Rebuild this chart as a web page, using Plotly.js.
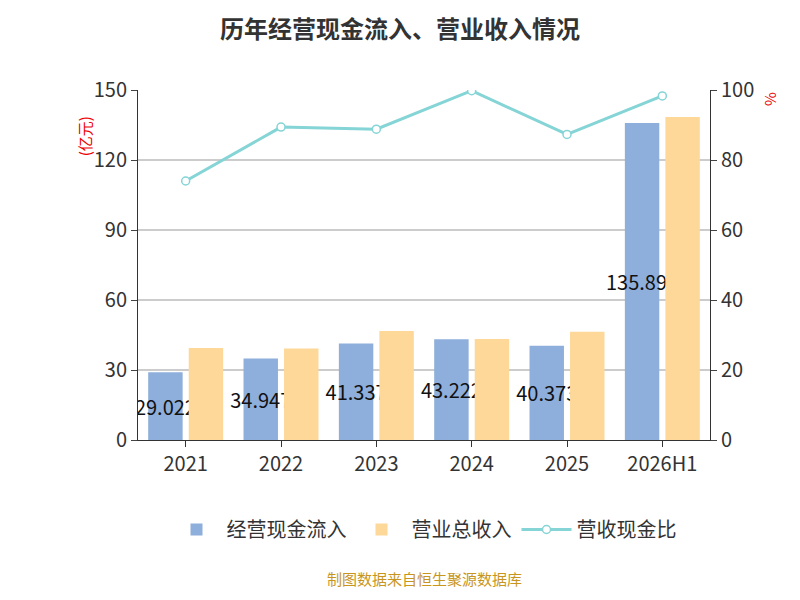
<!DOCTYPE html><html><head><meta charset="utf-8"><script src="https://cdn.plot.ly/plotly-3.0.1.min.js"></script></head><body style="margin:0"><div id="c" style="width:800px;height:600px"></div><script>
const years=['2021','2022','2023','2024','2025','2026H1'];
const cashIn=[29.022,34.947,41.337,43.222,40.373,135.893];
const revenue=[39.4,39.2,46.7,43.3,46.4,138.4];
const ratio=[74,89.4,88.8,99.8,87.3,98.3];
const F='"Noto Sans CJK SC","Noto Sans",sans-serif';
Plotly.newPlot('c',[
{type:'bar',name:'经营现金流入',x:years,y:cashIn,marker:{color:'#8eaedb'},text:cashIn.map(String),textposition:'inside',textangle:0,constraintext:'none',insidetextanchor:'middle',textfont:{size:20,color:'#111'},hoverinfo:'y'},
{type:'bar',name:'营业总收入',x:years,y:revenue,marker:{color:'#fed898'}},
{type:'scatter',mode:'lines+markers',name:'营收现金比',x:years,y:ratio,yaxis:'y2',line:{color:'#85d4d6',width:3},marker:{size:8,color:'#fff',line:{color:'#85d4d6',width:1.5}}}
],{
width:800,height:600,margin:{l:138,r:90,t:90,b:160},font:{family:F,size:18,color:'#333'},
title:{text:'<b>历年经营现金流入、营业收入情况</b>',x:0.5,y:0.965,font:{size:24,color:'#333'}},
paper_bgcolor:'#fff',plot_bgcolor:'#fff',bargap:0.15,bargroupgap:0.15,
xaxis:{type:'category',showline:true,linecolor:'#333',ticks:'outside',tickcolor:'#333',ticklen:6,tickfont:{size:20}},
yaxis:{range:[0,150],dtick:30,gridcolor:'#ccc',gridwidth:1.5,showline:true,linecolor:'#333',ticks:'outside',ticklen:6,tickfont:{size:20},zeroline:false},
yaxis2:{overlaying:'y',side:'right',range:[0,100],dtick:20,showgrid:false,showline:true,linecolor:'#333',ticks:'outside',ticklen:6,tickfont:{size:20},zeroline:false},
legend:{orientation:'h',x:0.5,xanchor:'center',y:-0.2,font:{size:20},itemwidth:50},
annotations:[{text:'%',xref:'paper',yref:'paper',x:1.13,y:1.0,showarrow:false,textangle:90,font:{size:15,color:'#e00'}},
{text:'(亿元)',xref:'paper',yref:'paper',x:-0.115,y:0.93,showarrow:false,textangle:-90,font:{size:15,color:'#e00'}},
{text:'制图数据来自恒生聚源数据库',xref:'paper',yref:'paper',x:0.5,y:-0.43,showarrow:false,font:{size:15,color:'#c8961e'}}]
},{displayModeBar:false});
</script></body></html>
